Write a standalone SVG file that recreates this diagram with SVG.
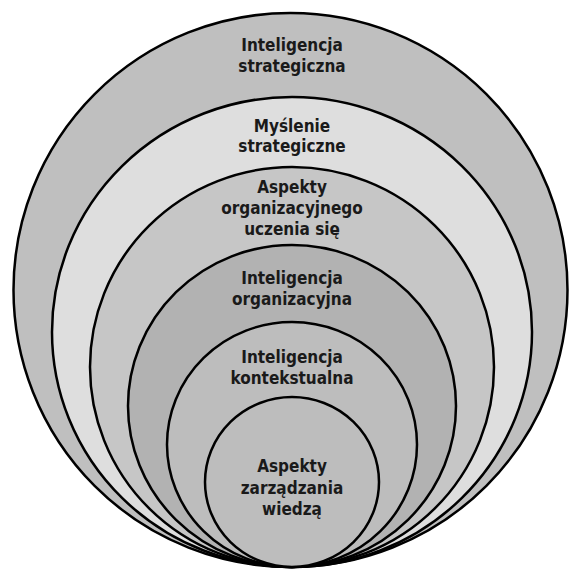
<svg xmlns="http://www.w3.org/2000/svg" width="569" height="570" viewBox="0 0 569 570">
<style>
.ring{stroke:#000;stroke-width:2.5}
.t{font-family:"DejaVu Sans Condensed","DejaVu Sans",sans-serif;font-stretch:condensed;font-weight:bold;font-size:17px;fill:#1a1a1a;text-anchor:middle}
</style>
<rect width="569" height="570" fill="#fff"/>
<g id="n1">
<ellipse class="ring" cx="290.5" cy="290" rx="277" ry="277" fill="#bfbfbf"/>
<text class="t" x="292" y="50.5">Inteligencja</text>
<text class="t" x="292" y="71.7">strategiczna</text>
</g>
<g id="n2">
<ellipse class="ring" cx="292" cy="332" rx="240" ry="235" fill="#dedede"/>
<text class="t" x="292" y="131.5">Myślenie</text>
<text class="t" x="292" y="151.7">strategiczne</text>
</g>
<g id="n3">
<ellipse class="ring" cx="292" cy="367" rx="202" ry="200" fill="#c6c6c6"/>
<text class="t" x="292" y="193">Aspekty</text>
<text class="t" x="292" y="214">organizacyjnego</text>
<text class="t" x="292" y="235">uczenia się</text>
</g>
<g id="n4">
<ellipse class="ring" cx="292" cy="406" rx="164" ry="161" fill="#b2b2b2"/>
<text class="t" x="292" y="284">Inteligencja</text>
<text class="t" x="292" y="305">organizacyjna</text>
</g>
<g id="n5">
<ellipse class="ring" cx="292" cy="444.5" rx="125" ry="122.5" fill="#bdbdbd"/>
<text class="t" x="292" y="363">Inteligencja</text>
<text class="t" x="292" y="384">kontekstualna</text>
</g>
<g id="n6">
<ellipse class="ring" cx="292" cy="482" rx="87" ry="85" fill="#bdbdbd"/>
<text class="t" x="292" y="472">Aspekty</text>
<text class="t" x="292" y="493.5">zarządzania</text>
<text class="t" x="292" y="515">wiedzą</text>
</g>
<g id="connectors"/>
</svg>
